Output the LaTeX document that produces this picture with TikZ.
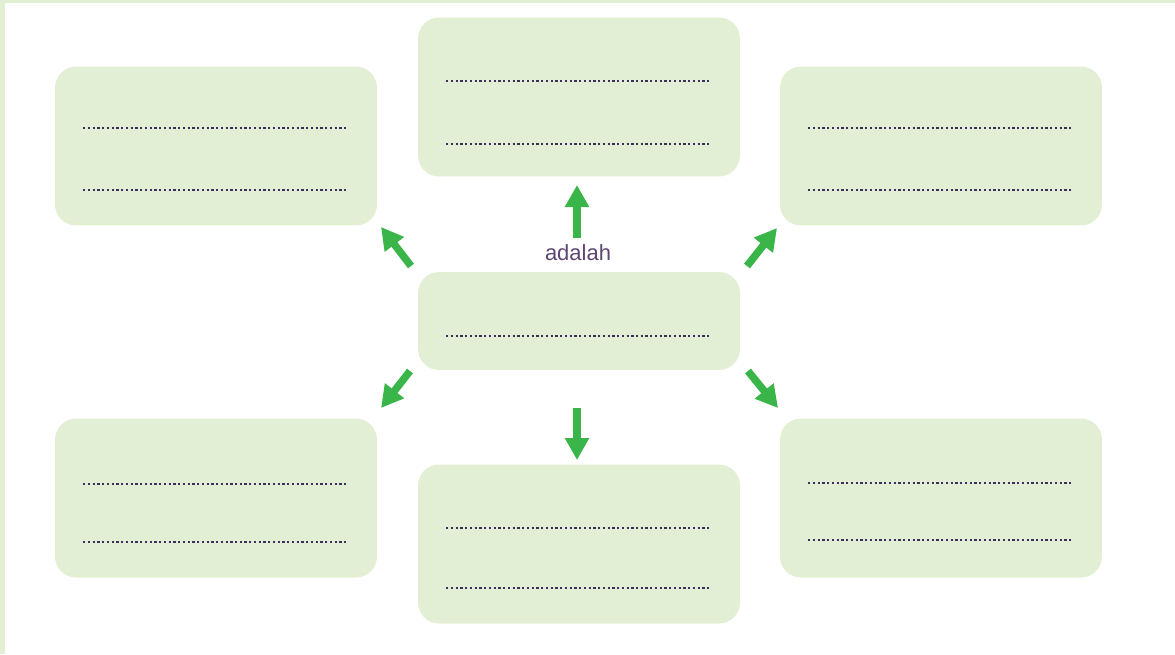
\documentclass[tikz,border=0pt]{standalone}
\usepackage{fontspec}
\setmainfont{Liberation Sans}
\usetikzlibrary{arrows.meta}
\definecolor{boxgreen}{HTML}{E3EFD4}
\definecolor{arrowgreen}{HTML}{3AB54A}
\definecolor{dotcol}{HTML}{3C2F5C}
\definecolor{txtcol}{HTML}{5E4670}
\begin{document}
\begin{tikzpicture}[x=0.02cm,y=-0.02cm,
  box/.style={fill=boxgreen,draw=none,rounded corners=0.42cm,minimum width=6.44cm,inner sep=0pt},
  bigbox/.style={box,minimum height=3.18cm},
  smallbox/.style={box,minimum height=1.96cm},
  dotline/.style={dotcol,line width=0.048cm,dash pattern=on 0.045cm off 0.05cm},
  arr/.style={arrowgreen,line width=0.15cm,-{Triangle[width=0.46cm,length=0.44cm]}}]
\useasboundingbox (0,0) rectangle (1175,654);
\fill[boxgreen] (0,0) rectangle (1175,3);
\fill[boxgreen] (0,0) rectangle (5,654);
% boxes
\node[bigbox] (tl) at (216,146) {};
\node[bigbox] (tc) at (579,97) {};
\node[bigbox] (tr) at (941,146) {};
\node[smallbox] (c) at (579,321) {};
\node[bigbox] (bl) at (216,498) {};
\node[bigbox] (bc) at (579,544) {};
\node[bigbox] (br) at (941,498) {};
% dotted lines
\foreach \n/\a/\b in {tl/-18/44, tc/-16/47, tr/-18/44, bl/-14/44, bc/-16/44, br/-15/42}{
  \draw[dotline] ([xshift=-2.66cm,yshift=\a*-0.02cm]\n.center) -- ([xshift=2.62cm,yshift=\a*-0.02cm]\n.center);
  \draw[dotline] ([xshift=-2.66cm,yshift=\b*-0.02cm]\n.center) -- ([xshift=2.62cm,yshift=\b*-0.02cm]\n.center);
}
\draw[dotline] ([xshift=-2.66cm,yshift=-0.3cm]c.center) -- ([xshift=2.62cm,yshift=-0.3cm]c.center);
% arrow end points
\coordinate (u0) at (577,238); \coordinate (u1) at (577,185);
\coordinate (d0) at (577,408); \coordinate (d1) at (577,460);
\coordinate (tl0) at (411,266); \coordinate (tl1) at (381,227);
\coordinate (bl0) at (410,371); \coordinate (bl1) at (381,408);
\coordinate (tr0) at (747,266); \coordinate (tr1) at (777,228);
\coordinate (br0) at (748,371); \coordinate (br1) at (778,408);
\draw[arr] (u0) -- (u1);
\draw[arr] (d0) -- (d1);
\draw[arr] (tl0) -- (tl1);
\draw[arr] (bl0) -- (bl1);
\draw[arr] (tr0) -- (tr1);
\draw[arr] (br0) -- (br1);
\node[text=txtcol,font=\fontsize{12.5}{14}\selectfont,inner sep=0pt] (lab) at (578,253) {adalah};
\end{tikzpicture}
\end{document}
